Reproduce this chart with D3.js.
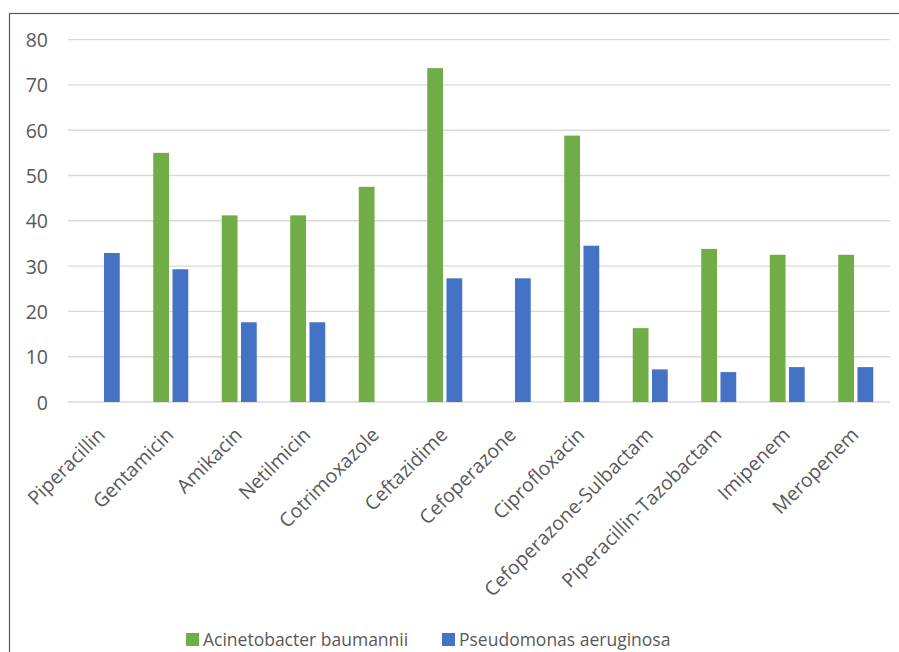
<!DOCTYPE html>
<html>
<head>
<meta charset="utf-8">
<script src="https://cdn.jsdelivr.net/npm/d3@7"></script>
<style>
  html, body { margin: 0; padding: 0; background: #fff; }
  svg { display: block; font-family: "Open Sans", "Noto Sans", sans-serif; }
</style>
</head>
<body>
<svg id="chart" width="899" height="652"></svg>
<script>
// Antibiotic resistance (%) by organism
const categories = [
  "Piperacillin", "Gentamicin", "Amikacin", "Netilmicin", "Cotrimoxazole",
  "Ceftazidime", "Cefoperazone", "Ciprofloxacin", "Cefoperazone-Sulbactam",
  "Piperacillin-Tazobactam", "Imipenem", "Meropenem"
];
const seriesNames = ["Acinetobacter baumannii", "Pseudomonas aeruginosa"];
const acinetobacter = [null, 55.0, 41.2, 41.2, 47.5, 73.7, null, 58.8, 16.3, 33.8, 32.5, 32.5];
const pseudomonas   = [32.9, 29.3, 17.6, 17.6, null, 27.3, 27.3, 34.5, 7.2, 6.6, 7.7, 7.7];
const yTicks = [0, 10, 20, 30, 40, 50, 60, 70, 80];
const colors = ["#70ad47", "#4472c4"];

const svg = d3.select("#chart");

// outer frame
svg.append("rect")
  .attr("x", 9.5).attr("y", 13.5)
  .attr("width", 1000).attr("height", 1000)
  .attr("fill", "none").attr("stroke", "#595959").attr("stroke-width", 1.2);

const plot = { left: 68, right: 890, top: 39.6, bottom: 402 };

const y = d3.scaleLinear().domain([0, 80]).range([plot.bottom, plot.top]);
const x0 = d3.scaleBand().domain(categories)
  .range([plot.left, plot.right]).paddingInner(0.489).paddingOuter(0.2445);
const x1 = d3.scaleBand().domain(seriesNames)
  .range([0, x0.bandwidth()]).paddingInner(0.18).paddingOuter(0);

// gridlines
svg.append("g")
  .selectAll("line").data(yTicks).join("line")
  .attr("x1", plot.left).attr("x2", plot.right)
  .attr("y1", d => y(d)).attr("y2", d => y(d))
  .attr("stroke", "#d9d9d9").attr("stroke-width", 1.4);

// y tick labels
const yAxis = d3.axisLeft(y).tickValues(yTicks).tickSize(0).tickPadding(0);
const yg = svg.append("g").attr("transform", "translate(48,0)").call(yAxis);
yg.select(".domain").remove();
yg.selectAll("text")
  .attr("fill", "#595959").attr("font-size", 19.5)
  .attr("font-family", "'Open Sans', sans-serif")
  .attr("dy", "0.36em");

// bars
const table = categories.map((c, i) => ({
  category: c,
  values: [
    { name: seriesNames[0], value: acinetobacter[i] },
    { name: seriesNames[1], value: pseudomonas[i] }
  ]
}));

svg.append("g")
  .selectAll("g").data(table).join("g")
  .attr("transform", d => `translate(${x0(d.category)},0)`)
  .selectAll("rect").data(d => d.values.filter(v => v.value !== null)).join("rect")
  .attr("x", d => x1(d.name))
  .attr("width", x1.bandwidth())
  .attr("y", d => y(d.value))
  .attr("height", d => y(0) - y(d.value))
  .attr("fill", d => colors[seriesNames.indexOf(d.name)]);

// category labels (rotated)
const xAxis = d3.axisBottom(x0).tickSize(0).tickPadding(0);
const xg = svg.append("g").attr("transform", `translate(0,${plot.bottom})`).call(xAxis);
xg.select(".domain").remove();
xg.selectAll("text")
  .attr("fill", "#595959").attr("font-size", 19.5)
  .attr("font-family", "'Open Sans', sans-serif")
  .attr("text-anchor", "end")
  .attr("dy", null).attr("y", null)
  .attr("transform", "translate(4,34) rotate(-45)");

// legend
const legendItems = [
  { name: seriesNames[0], x: 186 },
  { name: seriesNames[1], x: 442 }
];
const lg = svg.append("g");
legendItems.forEach((d, i) => {
  lg.append("rect").attr("x", d.x).attr("y", 633).attr("width", 13).attr("height", 13)
    .attr("fill", colors[i]);
  lg.append("text").attr("x", d.x + 17).attr("y", 646)
    .attr("fill", "#595959").attr("font-size", 17.5)
    .text(d.name);
});
</script>
</body>
</html>
